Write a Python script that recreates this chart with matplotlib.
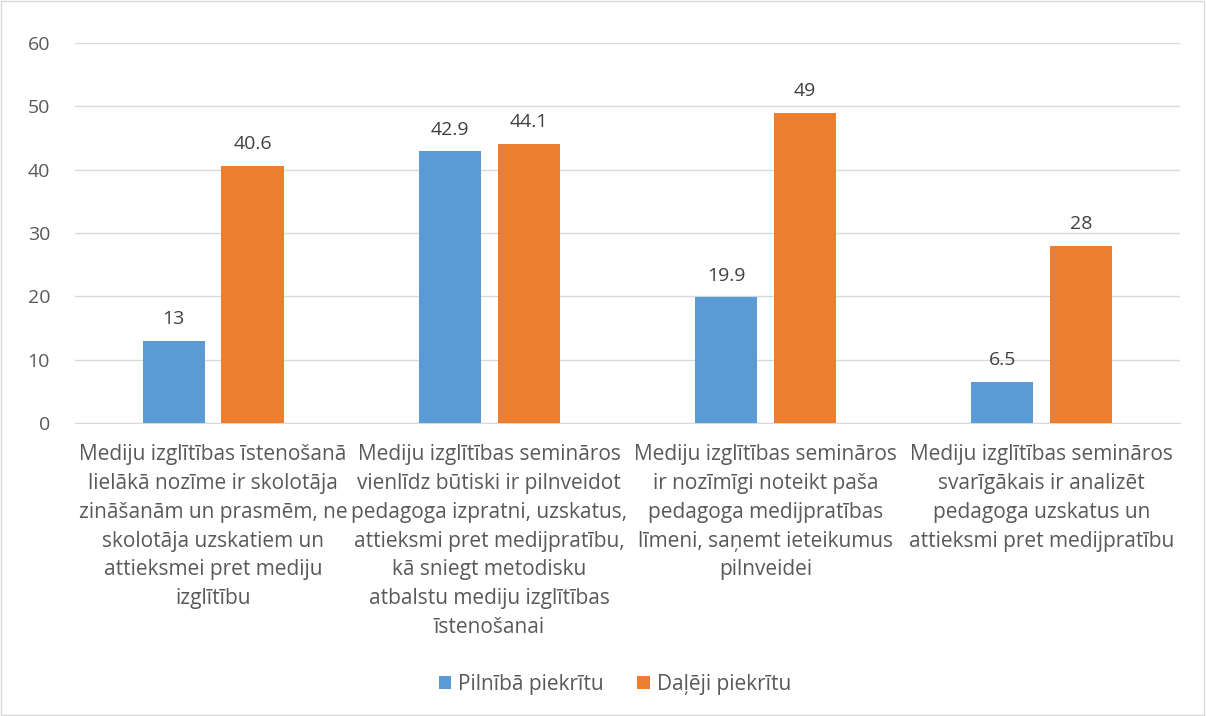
import matplotlib.pyplot as plt
import numpy as np
from matplotlib.patches import Rectangle

# Data
categories = [
    "Mediju izglītības īstenošanā\nlielākā nozīme ir skolotāja\nzināšanām un prasmēm, ne\nskolotāja uzskatiem un\nattieksmei pret mediju\nizglītību",
    "Mediju izglītības semināros\nvienlīdz būtiski ir pilnveidot\npedagoga izpratni, uzskatus,\nattieksmi pret medijpratību,\nkā sniegt metodisku\natbalstu mediju izglītības\nīstenošanai",
    "Mediju izglītības semināros\nir nozīmīgi noteikt paša\npedagoga medijpratības\nlīmeni, saņemt ieteikumus\npilnveidei",
    "Mediju izglītības semināros\nsvarīgākais ir analizēt\npedagoga uzskatus un\nattieksmi pret medijpratību",
]
pilniba = [13, 42.9, 19.9, 6.5]
daleji = [40.6, 44.1, 49, 28]
series_names = ["Pilnībā piekrītu", "Daļēji piekrītu"]

text_color = "#595959"
plt.rcParams['font.family'] = ['Open Sans', 'DejaVu Sans']

fig = plt.figure(figsize=(12.06, 7.16), dpi=100)
ax = fig.add_axes([0.0622, 0.409, 0.916, 0.531])

x = np.arange(len(categories))
w = 0.225
gap = 0.06
b1 = ax.bar(x - w / 2 - gap / 2, pilniba, w, color="#5B9BD5", label=series_names[0], zorder=3)
b2 = ax.bar(x + w / 2 + gap / 2, daleji, w, color="#ED7D31", label=series_names[1], zorder=3)

for bars, vals in ((b1, pilniba), (b2, daleji)):
    for rect, v in zip(bars, vals):
        ax.annotate(f"{v:g}", (rect.get_x() + rect.get_width() / 2, v),
                    xytext=(0, 9), textcoords="offset points",
                    ha="center", va="bottom", fontsize=14, color="#404040")

ax.set_xlim(-0.5, len(categories) - 0.5)
ax.set_ylim(0, 60)
ax.set_yticks(range(0, 61, 10))
ax.yaxis.grid(True, color="#D9D9D9", linewidth=1, zorder=0)
ax.set_xticks(x)
ax.set_xticklabels(categories, fontsize=15, color=text_color, linespacing=1.49)
ax.tick_params(axis="x", length=0, pad=15)
ax.tick_params(axis="y", length=0, labelsize=14, labelcolor=text_color, pad=18)
for s in ["top", "right", "left"]:
    ax.spines[s].set_visible(False)
ax.spines["bottom"].set_color("#D9D9D9")

fig.legend(loc="center", bbox_to_anchor=(0.51, 0.044), ncol=2, frameon=False,
           fontsize=15, labelcolor=text_color, handlelength=0.6, handleheight=0.6,
           columnspacing=1.6, handletextpad=0.35)

fig.patches.append(Rectangle((0.001, 0.001), 0.997, 0.997, transform=fig.transFigure,
                             fill=False, edgecolor="#D9D9D9", linewidth=1))

fig.savefig("out.png", dpi=100)
